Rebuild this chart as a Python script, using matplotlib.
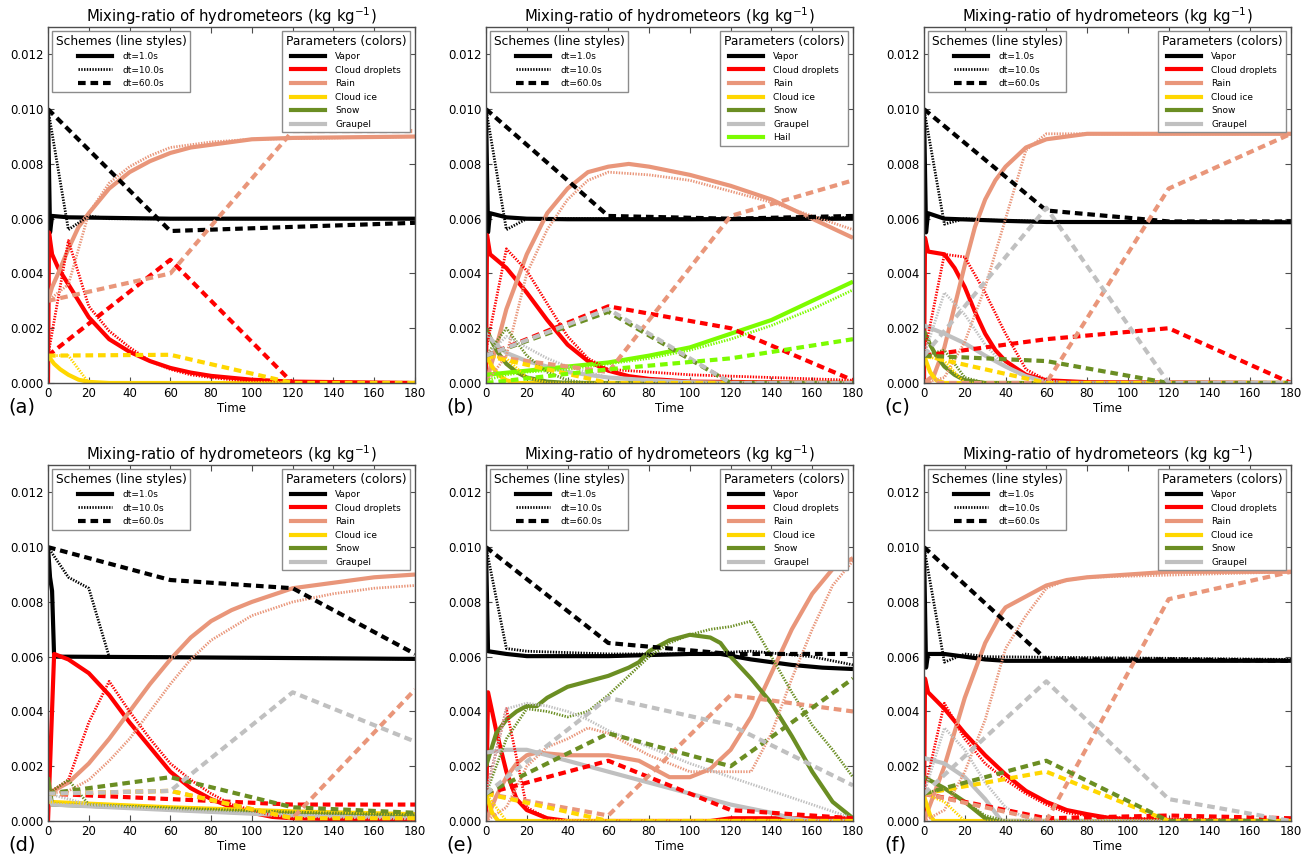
import matplotlib
matplotlib.use('Agg')
import matplotlib.pyplot as plt
from matplotlib.lines import Line2D
from matplotlib.ticker import FormatStrFormatter

plt.rcParams['font.family'] = 'DejaVu Sans'
plt.rcParams['lines.scale_dashes'] = False
plt.rcParams['xtick.direction'] = 'in'
plt.rcParams['ytick.direction'] = 'in'
plt.rcParams['xtick.top'] = True
plt.rcParams['ytick.right'] = True

SPECIES = ['Vapor', 'Cloud droplets', 'Rain', 'Cloud ice', 'Snow', 'Graupel', 'Hail']
COLORS = {'Vapor': 'black', 'Cloud droplets': 'red', 'Rain': 'darksalmon',
          'Cloud ice': 'gold', 'Snow': 'olivedrab', 'Graupel': 'silver',
          'Hail': 'lawngreen'}
SCHEMES = ['dt=1.0s', 'dt=10.0s', 'dt=60.0s']

# (time, mixing ratio) points per species, one dict per panel and time step

# ---- (a)
A_DT1 = {
    'Vapor': [(0, .0100), (1, .0055), (2, .0061), (10, .00605), (60, .0060), (180, .0060)],
    'Cloud droplets': [(0, 0), (0.5, .0055), (2, .0047), (5, .0042), (10, .0036), (20, .0024), (30, .0016),
                       (40, .00114), (50, .0008), (60, .00055), (70, .00038), (80, .00026), (100, .00012),
                       (120, .00005), (180, 0)],
    'Rain': [(0, .0030), (2, .0035), (5, .0040), (10, .0049), (15, .0057), (20, .0062), (30, .0071), (40, .0077),
             (50, .0081), (60, .0084), (70, .0086), (80, .0087), (100, .0089), (120, .00895), (180, .0090)],
    'Cloud ice': [(0, .0010), (3, .0007), (6, .0005), (10, .0003), (15, .00012), (20, .00004), (30, 0), (180, 0)],
}
A_DT10 = {
    'Vapor': [(0, .0100), (10, .0056), (20, .0061), (30, .0060), (180, .0060)],
    'Cloud droplets': [(0, .0010), (10, .0052), (20, .0028), (30, .0019), (40, .0013), (50, .0008), (60, .0005),
                       (70, .0003), (80, .0002), (90, .00012), (100, .00008), (120, .00003), (180, 0)],
    'Rain': [(0, .0030), (10, .0036), (20, .0062), (30, .0073), (40, .0079), (50, .0083), (60, .0086),
             (70, .0087), (80, .0088), (100, .0089), (180, .0090)],
    'Cloud ice': [(0, .0010), (10, .0010), (20, 0), (180, 0)],
}
A_DT60 = {
    'Vapor': [(0, .0100), (60, .00555), (120, .0057), (180, .00585)],
    'Cloud droplets': [(0, .0010), (60, .0045), (120, 0), (180, 0)],
    'Rain': [(0, .0030), (60, .0040), (120, .0092), (180, .0092)],
    'Cloud ice': [(0, .0010), (60, .00103), (120, 0), (180, 0)],
}

# ---- (b)
B_DT1 = {
    'Vapor': [(0, .0100), (1, .0055), (2, .0062), (10, .00605), (20, .0060), (40, .00598), (100, .00598), (180, .0060)],
    'Cloud droplets': [(0, 0), (0.5, .0054), (2, .0047), (10, .0042), (20, .0033), (30, .0023), (40, .0014),
                       (50, .0008), (60, .00045), (70, .00025), (80, .00015), (100, .00005), (180, 0)],
    'Rain': [(0, 0), (5, .0013), (10, .0027), (20, .0047), (30, .0062), (40, .0071), (50, .0077), (60, .0079),
             (70, .0080), (80, .0079), (100, .0076), (120, .0072), (140, .0067), (160, .0060), (180, .0053)],
    'Cloud ice': [(0, .0010), (3, .0006), (6, .0003), (10, .0001), (15, 0), (180, 0)],
    'Snow': [(0, .0020), (3, .0015), (6, .0011), (10, .0007), (15, .0004), (20, .0002), (30, .00005), (40, 0), (180, 0)],
    'Graupel': [(0, .0018), (5, .0014), (10, .0011), (20, .0008), (30, .0006), (40, .0004), (60, .0002),
                (80, .0001), (100, .00003), (120, 0), (180, 0)],
    'Hail': [(0, .0003), (20, .00045), (40, .0006), (60, .00075), (80, .0010), (100, .0013), (120, .0018),
             (140, .0023), (160, .0030), (180, .0037)],
}
B_DT10 = {
    'Vapor': [(0, .0100), (10, .0056), (20, .0060), (40, .0060), (100, .00598), (140, .0060), (180, .00605)],
    'Cloud droplets': [(0, .0012), (10, .0049), (20, .0041), (30, .0029), (40, .0017), (50, .0009), (60, .0005),
                       (80, .0004), (100, .0003), (120, .00025), (140, .0002), (160, .00015), (180, .0001)],
    'Rain': [(0, 0), (10, .0010), (20, .0040), (30, .0056), (40, .0067), (50, .0074), (60, .0077), (80, .0076),
             (100, .0074), (120, .0070), (140, .0066), (160, .0061), (180, .0056)],
    'Cloud ice': [(0, .0010), (10, .0009), (20, .0002), (30, 0), (180, 0)],
    'Snow': [(0, .0010), (10, .0020), (20, .0010), (30, .0004), (40, .0001), (50, 0), (180, 0)],
    'Graupel': [(0, .0010), (10, .0017), (20, .0013), (30, .0009), (40, .0006), (50, .0004), (60, .0002),
                (80, .0001), (100, 0), (180, 0)],
    'Hail': [(0, .0001), (10, .0003), (20, .0004), (40, .0005), (60, .0007), (80, .0009), (100, .0012),
             (120, .0016), (140, .0021), (160, .0027), (180, .0034)],
}
B_DT60 = {
    'Vapor': [(0, .0100), (60, .0061), (120, .0060), (180, .0061)],
    'Cloud droplets': [(0, .0010), (60, .0028), (120, .0020), (180, .0001)],
    'Rain': [(0, .0010), (60, .0004), (120, .0061), (180, .0074)],
    'Cloud ice': [(0, .0010), (60, 0), (180, 0)],
    'Snow': [(0, .0010), (60, .0026), (120, 0), (180, 0)],
    'Graupel': [(0, .0010), (60, .0027), (120, 0), (180, 0)],
    'Hail': [(0, 0), (60, .0005), (120, .0009), (180, .0016)],
}

# ---- (c)
C_DT1 = {
    'Vapor': [(0, .0100), (1, .0055), (2, .0062), (10, .0060), (40, .00592), (60, .00588), (180, .00587)],
    'Cloud droplets': [(0, 0), (0.5, .0053), (2, .0048), (10, .0047), (15, .0042), (20, .0035), (25, .0026),
                       (30, .0018), (35, .0012), (40, .0008), (50, .0003), (60, .0001), (80, .00003), (180, 0)],
    'Rain': [(0, 0), (5, .0003), (10, .0013), (15, .0028), (20, .0043), (25, .0057), (30, .0067), (35, .0074),
             (40, .0079), (50, .0086), (60, .0089), (80, .0091), (180, .0091)],
    'Cloud ice': [(0, .0010), (3, .0004), (6, .0001), (10, 0), (180, 0)],
    'Snow': [(0, .0019), (3, .0014), (6, .0010), (10, .0006), (15, .0003), (20, .0001), (30, 0), (180, 0)],
    'Graupel': [(0, .0021), (10, .0018), (20, .00145), (30, .0010), (40, .0006), (50, .00025), (60, .00005),
                (70, 0), (180, 0)],
}
C_DT10 = {
    'Vapor': [(0, .0100), (10, .0058), (20, .0060), (30, .00595), (60, .0059), (180, .00587)],
    'Cloud droplets': [(0, .0010), (10, .0047), (20, .0046), (30, .0033), (40, .0018), (50, .0005), (60, .0001),
                       (70, 0), (180, 0)],
    'Rain': [(0, 0), (10, .0002), (20, .0015), (30, .0035), (40, .0060), (50, .0085), (60, .0091), (180, .0091)],
    'Cloud ice': [(0, .0010), (10, .0008), (20, 0), (180, 0)],
    'Snow': [(0, .0010), (10, .0012), (20, .0002), (30, 0), (180, 0)],
    'Graupel': [(0, .0010), (10, .0033), (20, .0025), (30, .0014), (40, .0006), (50, .0002), (60, 0), (180, 0)],
}
C_DT60 = {
    'Vapor': [(0, .0100), (60, .0063), (120, .0059), (180, .0059)],
    'Cloud droplets': [(0, .0010), (60, .0016), (120, .0020), (180, 0)],
    'Rain': [(0, 0), (60, 0), (120, .0071), (180, .0091)],
    'Cloud ice': [(0, .0010), (60, 0), (180, 0)],
    'Snow': [(0, .0010), (60, .0008), (120, 0), (180, 0)],
    'Graupel': [(0, .0010), (60, .0064), (120, 0), (180, 0)],
}

# ---- (d)
D_DT1 = {
    'Vapor': [(0, .0100), (1, .0089), (2, .0084), (3, .0060), (10, .0060), (60, .00598), (120, .00595), (180, .00592)],
    'Cloud droplets': [(0, 0), (3, .0061), (10, .0059), (20, .0054), (30, .0046), (40, .0036), (50, .0027),
                       (60, .0018), (70, .0012), (80, .0008), (90, .0005), (100, .0003), (110, .00015),
                       (120, .0001), (150, .00005), (180, .00003)],
    'Rain': [(0, .0010), (10, .0014), (20, .0021), (30, .0030), (40, .0040), (50, .0050), (60, .0059), (70, .0067),
             (80, .0073), (90, .0077), (100, .0080), (120, .0085), (140, .0087), (160, .0089), (180, .0090)],
    'Cloud ice': [(0, .0007), (60, .0005), (120, .00035), (180, .00025)],
    'Snow': [(0, .0016), (2, .0006), (60, .00045), (120, .0003), (180, .0002)],
    'Graupel': [(0, .0011), (2, .0006), (60, .0004), (120, .0002), (180, .0001)],
}
D_DT10 = {
    'Vapor': [(0, .0100), (10, .0089), (20, .0085), (30, .0060), (60, .00598), (180, .00592)],
    'Cloud droplets': [(0, .0010), (10, .0015), (20, .0036), (30, .0051), (40, .0040), (50, .0030), (60, .0021),
                       (70, .0015), (80, .0010), (90, .0006), (100, .0004), (110, .0002), (120, .0001), (180, .00005)],
    'Rain': [(0, .0010), (10, .0011), (20, .0015), (30, .0022), (40, .0030), (50, .0040), (60, .0050), (70, .0059),
             (80, .0066), (100, .0075), (120, .0080), (140, .0083), (160, .0085), (180, .0086)],
    'Cloud ice': [(0, .0007), (60, .0005), (120, .00035), (180, .00025)],
    'Snow': [(0, .0010), (10, .0015), (20, .0006), (60, .00045), (120, .0003), (180, .0002)],
    'Graupel': [(0, .0010), (10, .0008), (20, .0006), (60, .0004), (120, .0002), (180, .0001)],
}
D_DT60 = {
    'Vapor': [(0, .0100), (60, .0088), (120, .0085), (180, .0061)],
    'Cloud droplets': [(0, .0010), (60, .0008), (120, .0006), (180, .0006)],
    'Rain': [(0, .0010), (60, .0011), (120, .0001), (180, .0048)],
    'Cloud ice': [(0, .0010), (60, .0011), (120, .0001), (180, .0001)],
    'Snow': [(0, .0010), (60, .0016), (120, .0005), (180, .0003)],
    'Graupel': [(0, .0010), (60, .0011), (120, .0047), (180, .0029)],
}

# ---- (e)
E_DT1 = {
    'Vapor': [(0, .0100), (1, .0062), (10, .0061), (20, .00602), (60, .00602), (100, .0061), (115, .0061),
              (130, .0059), (150, .0057), (165, .0056), (180, .00555)],
    'Cloud droplets': [(0, 0), (1, .0047), (5, .0033), (10, .0018), (15, .0008), (20, .0004), (30, .0001),
                       (40, 0), (110, 0), (120, .0001), (180, .0001)],
    'Rain': [(0, 0), (5, .0009), (10, .0016), (15, .0021), (20, .0024), (25, .0025), (40, .0024), (60, .0024),
             (75, .0022), (85, .0018), (90, .0016), (100, .0016), (110, .0019), (120, .0026), (130, .0038),
             (140, .0054), (150, .0070), (160, .0083), (170, .0092), (180, .0096)],
    'Cloud ice': [(0, .0010), (3, .0003), (6, 0), (180, 0)],
    'Snow': [(0, .0020), (5, .0032), (10, .0037), (15, .0040), (20, .0042), (25, .0042), (30, .0045), (40, .0049),
             (50, .0051), (60, .0053), (70, .0056), (75, .0058), (80, .0062), (90, .0066), (100, .0068),
             (110, .0067), (115, .0065), (120, .0060), (130, .0052), (140, .0043), (150, .0031), (160, .0018),
             (170, .0007), (180, .0001)],
    'Graupel': [(0, .0025), (10, .0026), (20, .0026), (30, .0024), (40, .0022), (60, .0018), (80, .0014),
                (100, .0010), (120, .0006), (140, .0003), (150, .0001), (160, 0), (180, 0)],
}
E_DT10 = {
    'Vapor': [(0, .0100), (10, .0063), (20, .0062), (60, .0061), (100, .0061), (130, .0062), (160, .0060), (180, .0057)],
    'Cloud droplets': [(0, .0010), (10, .0041), (20, .0005), (30, .0001), (40, 0), (180, 0)],
    'Rain': [(0, 0), (10, .0005), (20, .0020), (30, .0027), (40, .0030), (50, .0034), (60, .0032), (70, .0028),
             (80, .0024), (90, .0021), (100, .0018), (110, .0018), (120, .0018), (130, .0018), (140, .0032),
             (150, .0052), (160, .0070), (170, .0086), (180, .0095)],
    'Cloud ice': [(0, .0010), (10, 0), (180, 0)],
    'Snow': [(0, .0010), (10, .0030), (20, .0041), (30, .0040), (40, .0038), (50, .0040), (60, .0046), (70, .0053),
             (80, .0060), (90, .0065), (100, .0068), (110, .0070), (120, .0071), (130, .0073), (140, .0060),
             (150, .0047), (160, .0035), (170, .0026), (180, .0016)],
    'Graupel': [(0, .0010), (10, .0041), (20, .0043), (30, .0042), (40, .0040), (50, .0037), (60, .0033),
                (80, .0027), (100, .0021), (120, .0016), (140, .0011), (160, .0006), (180, .0001)],
}
E_DT60 = {
    'Vapor': [(0, .0100), (60, .0065), (120, .0061), (180, .0061)],
    'Cloud droplets': [(0, .0010), (60, .0022), (120, .0004), (180, .0001)],
    'Rain': [(0, .0010), (60, .0002), (120, .0046), (180, .0040)],
    'Cloud ice': [(0, .0010), (60, 0), (180, 0)],
    'Snow': [(0, .0010), (60, .0032), (120, .0020), (180, .0052)],
    'Graupel': [(0, .0010), (60, .0045), (120, .0035), (180, .0013)],
}

# ---- (f)
F_DT1 = {
    'Vapor': [(0, .0100), (1, .0056), (2, .0061), (10, .0061), (20, .0060), (30, .0059), (40, .00585), (180, .00585)],
    'Cloud droplets': [(0, 0), (0.5, .0052), (2, .0047), (10, .0041), (20, .0032), (30, .0024), (40, .0017),
                       (50, .0011), (60, .0007), (70, .0004), (80, .00025), (90, .00012), (100, .00006),
                       (120, .00002), (180, 0)],
    'Rain': [(0, 0), (10, .0020), (20, .0045), (30, .0065), (38, .0076), (40, .0078), (50, .0082), (60, .0086),
             (70, .0088), (80, .0089), (100, .0090), (120, .0091), (180, .0091)],
    'Cloud ice': [(0, .0009), (3, .0002), (5, 0), (180, 0)],
    'Snow': [(0, .0016), (10, .0012), (20, .0007), (30, .0001), (35, 0), (180, 0)],
    'Graupel': [(0, .0023), (10, .0021), (20, .0016), (30, .0008), (38, 0), (180, 0)],
}
F_DT10 = {
    'Vapor': [(0, .0100), (10, .0058), (20, .0061), (30, .0060), (180, .0059)],
    'Cloud droplets': [(0, .0010), (10, .0043), (20, .0030), (30, .0021), (40, .0015), (50, .0010), (60, .0006),
                       (70, .0003), (80, .0002), (100, .0001), (180, 0)],
    'Rain': [(0, 0), (10, .0004), (20, .0018), (30, .0037), (40, .0063), (50, .0075), (60, .0085), (70, .0088),
             (80, .0089), (180, .0091)],
    'Cloud ice': [(0, .0010), (10, .0007), (20, 0), (180, 0)],
    'Snow': [(0, .0010), (10, .0012), (20, .0007), (30, .0002), (40, 0), (180, 0)],
    'Graupel': [(0, .0010), (10, .0034), (20, .0026), (30, .0014), (40, .0005), (50, .0001), (60, 0), (180, 0)],
}
F_DT60 = {
    'Vapor': [(0, .0100), (60, .0059), (120, .0059), (180, .00585)],
    'Cloud droplets': [(0, .0010), (60, .0001), (120, .0002), (180, .0001)],
    'Rain': [(0, .0010), (60, 0), (120, .0081), (180, .0091)],
    'Cloud ice': [(0, .0010), (60, .0018), (120, 0), (180, 0)],
    'Snow': [(0, .0010), (60, .0022), (120, 0), (180, 0)],
    'Graupel': [(0, .0010), (60, .0051), (120, .0008), (180, 0)],
}

PANELS = [
    ('(a)', [A_DT1, A_DT10, A_DT60], SPECIES[:6]),
    ('(b)', [B_DT1, B_DT10, B_DT60], SPECIES),
    ('(c)', [C_DT1, C_DT10, C_DT60], SPECIES[:6]),
    ('(d)', [D_DT1, D_DT10, D_DT60], SPECIES[:6]),
    ('(e)', [E_DT1, E_DT10, E_DT60], SPECIES[:6]),
    ('(f)', [F_DT1, F_DT10, F_DT60], SPECIES[:6]),
]

# line style for each scheme: (linestyle, linewidth)
STYLES = [('-', 3.0), ((0, (1, 1)), 2.0), ((0, (5.5, 3.5)), 3.0)]

W, H = 1312, 856
fig = plt.figure(figsize=(W / 100, H / 100), dpi=100)
col_left = [48, 486, 924]
row_bottom = [383, 821]
ax_w, ax_h = 367, 356

LEGEND_KW = dict(borderaxespad=0, fontsize=6.5, title_fontsize=8.8, handlelength=3.8,
                 handletextpad=1.1, labelspacing=0.5, borderpad=0.4,
                 fancybox=False, edgecolor='0.55', framealpha=1)


def draw_panel(ax, label, runs, names):
    for (ls, lw), run in zip(STYLES, runs):
        for name in names:
            if name not in run:
                continue
            t, q = zip(*run[name])
            ax.plot(t, q, color=COLORS[name], ls=ls, lw=lw, solid_capstyle='butt')

    ax.set_xlim(0, 180)
    ax.set_ylim(0, 0.013)
    ax.set_xticks(range(0, 181, 20))
    ax.set_yticks([0.0, 0.002, 0.004, 0.006, 0.008, 0.010, 0.012])
    ax.yaxis.set_major_formatter(FormatStrFormatter('%.3f'))
    ax.tick_params(labelsize=8.5, length=4, width=0.8, pad=3, color='0.3')
    for sp in ax.spines.values():
        sp.set_color('0.3')
        sp.set_linewidth(1.0)
    ax.set_title('Mixing-ratio of hydrometeors (kg kg$^{-1}$)', fontsize=10.7, pad=3)
    ax.set_xlabel('Time', fontsize=8.5, labelpad=1)
    ax.text(-40 / ax_w, -24 / ax_h, label, transform=ax.transAxes, fontsize=14,
            ha='left', va='center')

    scheme_handles = [Line2D([], [], color='black', ls=ls, lw=lw) for ls, lw in STYLES]
    leg1 = ax.legend(scheme_handles, SCHEMES, title='Schemes (line styles)', loc='upper left',
                     bbox_to_anchor=(4 / ax_w, 1 - 4 / ax_h), **LEGEND_KW)
    leg1.get_frame().set_linewidth(1.0)
    ax.add_artist(leg1)

    param_handles = [Line2D([], [], color=COLORS[n], lw=3.0) for n in names]
    leg2 = ax.legend(param_handles, names, title='Parameters (colors)', loc='upper right',
                     bbox_to_anchor=(1 - 5 / ax_w, 1 - 4 / ax_h), **LEGEND_KW)
    leg2.get_frame().set_linewidth(1.0)


for i, (label, runs, names) in enumerate(PANELS):
    r, c = divmod(i, 3)
    ax = fig.add_axes([col_left[c] / W, (H - row_bottom[r]) / H, ax_w / W, ax_h / H])
    draw_panel(ax, label, runs, names)

fig.savefig('out.png', dpi=100)
